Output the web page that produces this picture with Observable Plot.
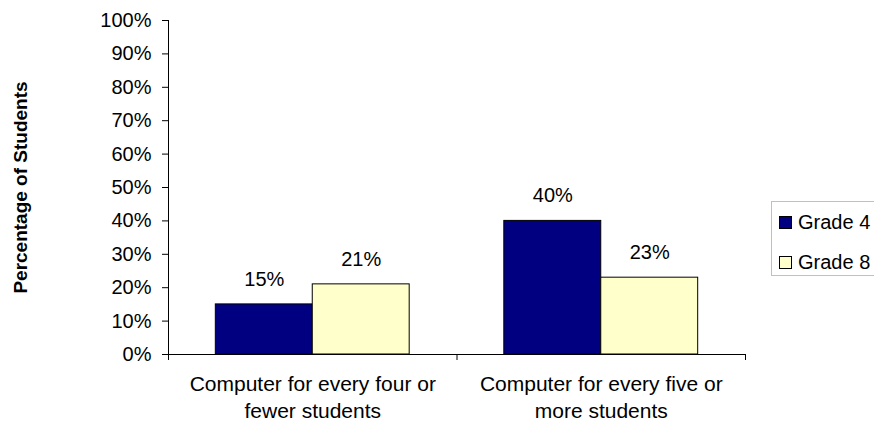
<!DOCTYPE html>
<html>
<head>
<meta charset="utf-8">
<script src="https://cdn.jsdelivr.net/npm/d3@7"></script>
<script src="https://cdn.jsdelivr.net/npm/@observablehq/plot@0.6"></script>
<style>
  html, body { margin: 0; padding: 0; background: #fff; }
  #wrap { position: relative; width: 874px; height: 426px; overflow: hidden; font-family: "Liberation Sans", Arial, sans-serif; }
  #legend { position: absolute; left: 771px; top: 201px; width: 140px; height: 75px; border: 1px solid #c0c0c0; box-sizing: border-box; background: #fff; }
  .row { position: absolute; left: 7px; display: flex; align-items: center; font-size: 20px; color: #000; white-space: nowrap; }
  .sw { width: 11px; height: 11px; border: 1px solid #000; margin-right: 6px; }
</style>
</head>
<body>
<div id="wrap"></div>
<script>
const categories = ["Computer for every four or\nfewer students", "Computer for every five or\nmore students"];
const grades = ["Grade 4", "Grade 8"];
const grade4 = [15, 40];
const grade8 = [21, 23];
const yTicks = [0, 10, 20, 30, 40, 50, 60, 70, 80, 90, 100];
const colors = ["#000080", "#FFFFCC"];

const data = [];
categories.forEach((c, i) => {
  data.push({category: c, ci: i, grade: grades[0], gi: 0, value: grade4[i]});
  data.push({category: c, ci: i, grade: grades[1], gi: 1, value: grade8[i]});
});

const groupFrac = 0.672;
const start = (1 - groupFrac) / 2;
const bw = groupFrac / grades.length;
const x1 = d => d.ci + start + d.gi * bw;
const x2 = d => d.ci + start + (d.gi + 1) * bw;
const xc = d => d.ci + start + (d.gi + 0.5) * bw;

const font = "Liberation Sans, Arial, sans-serif";

const chart = Plot.plot({
  width: 874,
  height: 426,
  marginLeft: 168,
  marginRight: 129,
  marginTop: 20,
  marginBottom: 72,
  style: {fontFamily: font, fontSize: "20px", color: "#000", background: "transparent"},
  x: {domain: [0, categories.length], axis: null},
  y: {domain: [0, 100], axis: null},
  color: {domain: grades, range: colors},
  marks: [
    Plot.rectY(data, {x1, x2, y: "value", fill: "grade", stroke: "#000", strokeWidth: 1}),
    Plot.ruleY([0], {stroke: "#000", strokeWidth: 1}),
    Plot.ruleX([0], {stroke: "#000", strokeWidth: 1}),
    Plot.axisY({ticks: yTicks, tickFormat: d => d + "%", tickSize: 6, tickPadding: 11, fontSize: 20, stroke: "#000", strokeWidth: 1, label: null}),
    Plot.axisX({ticks: d3.range(0, categories.length + 1), tickFormat: () => "", tickSize: 6, stroke: "#000", label: null}),
    Plot.text(data, {x: xc, y: "value", text: d => d.value + "%", dy: -25, fontSize: 20, fill: "#000"}),
    Plot.text(categories, {x: (d, i) => i + 0.5, y: 0, text: d => d, dy: 41, fontSize: 21, lineHeight: 1.29, lineAnchor: "middle", fill: "#000"}),
    Plot.text(["Percentage of Students"], {frameAnchor: "left", dx: -148, rotate: -90, textAnchor: "middle", fontWeight: "bold", fontSize: 19, fill: "#000"})
  ]
});

const wrap = document.getElementById("wrap");
wrap.appendChild(chart);

const legend = document.createElement("div");
legend.id = "legend";
grades.forEach((g, i) => {
  const row = document.createElement("div");
  row.className = "row";
  row.style.top = (i === 0 ? 9 : 49) + "px";
  const sw = document.createElement("div");
  sw.className = "sw";
  sw.style.background = colors[i];
  const t = document.createElement("span");
  t.textContent = g;
  row.appendChild(sw);
  row.appendChild(t);
  legend.appendChild(row);
});
wrap.appendChild(legend);
</script>
</body>
</html>
